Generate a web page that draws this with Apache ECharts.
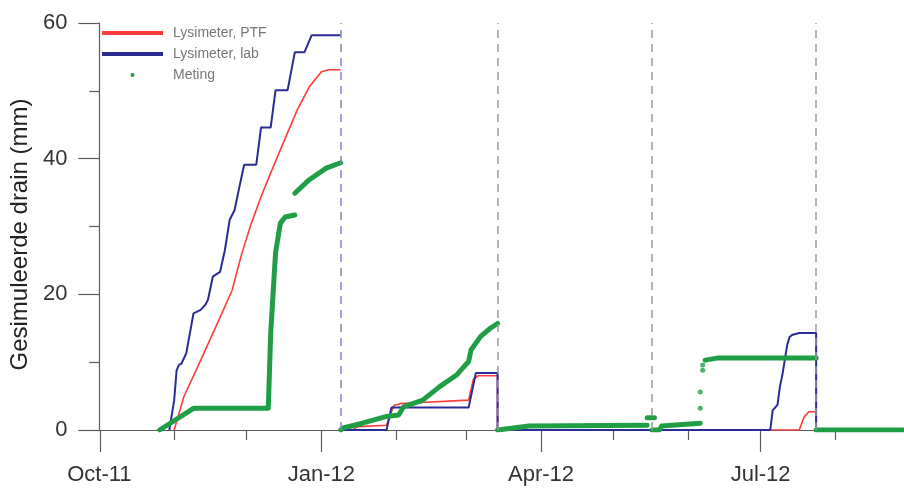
<!DOCTYPE html>
<html>
<head>
<meta charset="utf-8">
<script src="https://cdn.jsdelivr.net/npm/echarts@6/dist/echarts.min.js"></script>
<style>
html,body{margin:0;padding:0;background:#fff;}
#chart{width:904px;height:488px;}
</style>
</head>
<body>
<div id="chart"></div>
<script>
// ---- data ----
const tickDates = ['2011-10-01', '2012-01-01', '2012-04-01', '2012-07-01'];
const tickLabels = ['Oct-11', 'Jan-12', 'Apr-12', 'Jul-12'];
const minorTickDates = ['2011-11-01', '2011-12-01', '2012-02-01', '2012-03-01', '2012-05-01', '2012-06-01', '2012-08-01'];
const axisStart = '2011-10-01';
const axisEnd = '2012-08-29';
const resetDates = ['2012-01-09', '2012-03-14', '2012-05-17', '2012-07-24'];
const yTicks = [0, 20, 40, 60];

const seriesNames = ['Lysimeter, PTF', 'Lysimeter, lab', 'Meting'];

const ptfData = [
  ['2011-11-01', 0], ['2011-11-05', 4.9], ['2011-11-12', 10.3], ['2011-11-19', 15.8],
  ['2011-11-25', 20.6], ['2011-11-29', 26.0], ['2011-12-03', 30.5], ['2011-12-07', 34.4],
  ['2011-12-11', 37.9], ['2011-12-17', 43.0], ['2011-12-22', 47.2], ['2011-12-27', 50.6],
  ['2012-01-01', 52.8], ['2012-01-04', 53.1], ['2012-01-09', 53.1], ['2012-01-09', null],
  ['2012-01-09', 0], ['2012-01-14', 0], ['2012-01-16', 0.5], ['2012-01-28', 0.7],
  ['2012-01-31', 3.6], ['2012-02-03', 3.9], ['2012-03-02', 4.4], ['2012-03-04', 7.5],
  ['2012-03-06', 8.0], ['2012-03-14', 8.0], ['2012-03-14', 0], ['2012-07-17', 0],
  ['2012-07-19', 1.9], ['2012-07-21', 2.7], ['2012-07-24', 2.7], ['2012-07-24', 0],
  ['2012-08-29', 0]
];

const labData = [
  ['2011-10-30', 0], ['2011-11-01', 4.4], ['2011-11-02', 8.8], ['2011-11-03', 9.6],
  ['2011-11-04', 9.8], ['2011-11-06', 11.3], ['2011-11-09', 17.2], ['2011-11-12', 17.7],
  ['2011-11-14', 18.5], ['2011-11-15', 19.2], ['2011-11-17', 22.6], ['2011-11-20', 23.3],
  ['2011-11-22', 26.5], ['2011-11-24', 31.0], ['2011-11-26', 32.4], ['2011-11-28', 35.8],
  ['2011-11-30', 39.1], ['2011-12-05', 39.1], ['2011-12-07', 44.6], ['2011-12-11', 44.6],
  ['2011-12-13', 50.1], ['2011-12-18', 50.1], ['2011-12-21', 55.7], ['2011-12-25', 55.7],
  ['2011-12-28', 58.2], ['2012-01-09', 58.2], ['2012-01-09', null],
  ['2012-01-09', 0], ['2012-01-28', 0], ['2012-01-30', 3.3], ['2012-03-02', 3.3],
  ['2012-03-05', 8.4], ['2012-03-14', 8.4], ['2012-03-14', 0], ['2012-07-05', 0],
  ['2012-07-06', 2.9], ['2012-07-08', 3.7], ['2012-07-09', 6.4], ['2012-07-10', 8.1],
  ['2012-07-12', 12.5], ['2012-07-13', 13.7], ['2012-07-14', 14.0], ['2012-07-17', 14.3],
  ['2012-07-24', 14.3], ['2012-07-24', 0], ['2012-08-29', 0]
];

const metingData = [
  ['2011-10-26', 0], ['2011-11-09', 3.2], ['2011-12-10', 3.2], ['2011-12-11', 14.3],
  ['2011-12-13', 26.1], ['2011-12-15', 30.5], ['2011-12-17', 31.4], ['2011-12-21', 31.7],
  ['2011-12-21', null],
  ['2011-12-21', 34.9], ['2011-12-27', 36.9], ['2012-01-03', 38.6], ['2012-01-09', 39.4],
  ['2012-01-09', null],
  ['2012-01-09', 0], ['2012-01-10', 0.3], ['2012-01-18', 1.0], ['2012-01-28', 2.0],
  ['2012-02-02', 2.2], ['2012-02-04', 3.4], ['2012-02-12', 4.4], ['2012-02-19', 6.4],
  ['2012-02-26', 8.1], ['2012-02-29', 9.3], ['2012-03-02', 10.1], ['2012-03-03', 11.8],
  ['2012-03-07', 13.8], ['2012-03-11', 15.0], ['2012-03-14', 15.7],
  ['2012-03-14', null],
  ['2012-03-14', 0], ['2012-03-27', 0.6], ['2012-05-15', 0.7],
  ['2012-05-15', null],
  ['2012-05-15', 1.8], ['2012-05-18', 1.8],
  ['2012-05-18', null],
  ['2012-05-17', 0], ['2012-05-20', 0], ['2012-05-21', 0.6], ['2012-06-06', 1.0],
  ['2012-06-06', null],
  ['2012-06-08', 10.3], ['2012-06-13', 10.6], ['2012-07-24', 10.6],
  ['2012-07-24', null],
  ['2012-07-24', 0], ['2012-08-29', 0]
];

const metingDots = [
  ['2012-06-06', 3.2], ['2012-06-06', 5.6], ['2012-06-07', 8.8], ['2012-06-07', 9.6]
];

// ---- colours / style ----
const colPtf = '#ff3b3b';
const colLab = '#2b2b96';
const colMeting = '#1f9e46';
const axisCol = '#5a5a5a';
const font = "'Liberation Sans', Arial, sans-serif";

function ts(s) {
  const p = s.split('-').map(Number);
  return new Date(p[0], p[1] - 1, p[2]).getTime();
}
function toXY(arr) {
  return arr.map(function (d) { return [ts(d[0]), d[1] === null ? '-' : d[1]]; });
}
const tickTs = tickDates.map(ts);
const tickPos = tickTs.map(function (t, i) { return i === 0 ? t + 4 * 3600 * 1000 : t; });
const minorTs = minorTickDates.map(ts);

const chart = echarts.init(document.getElementById('chart'), null, {renderer: 'canvas'});

const xBase = {
  type: 'value',
  min: ts(axisStart),
  max: ts(axisEnd),
  scale: true,
  splitLine: {show: false}
};

const option = {
  animation: false,
  backgroundColor: '#fff',
  grid: {left: 95, right: 1, top: 23, bottom: 58, containLabel: false},
  legend: {
    orient: 'vertical',
    left: 97,
    top: 20,
    itemWidth: 61,
    itemHeight: 4,
    itemGap: 5,
    textStyle: {fontFamily: font, fontSize: 14, color: '#777', lineHeight: 16, padding: [0, 0, 0, 5]},
    data: [
      {name: seriesNames[0], icon: 'rect'},
      {name: seriesNames[1], icon: 'rect'},
      {name: seriesNames[2], icon: 'circle'}
    ]
  },
  xAxis: [
    Object.assign({}, xBase, {
      axisLine: {show: true, onZero: false, lineStyle: {color: axisCol, width: 1.2}},
      axisTick: {show: true, length: 22, customValues: tickPos, lineStyle: {color: axisCol, width: 1.2}},
      axisLabel: {
        customValues: tickTs,
        margin: 34,
        fontFamily: font,
        fontSize: 22,
        color: '#333',
        formatter: function (v) {
          const i = tickTs.indexOf(v);
          return i >= 0 ? tickLabels[i] : '';
        }
      }
    }),
    Object.assign({}, xBase, {
      position: 'bottom',
      axisLine: {show: false, onZero: false},
      axisTick: {show: true, length: 10, customValues: minorTs, lineStyle: {color: axisCol, width: 1.2}},
      axisLabel: {show: false}
    })
  ],
  yAxis: {
    type: 'value',
    min: yTicks[0],
    max: yTicks[yTicks.length - 1],
    interval: 20,
    name: 'Gesimuleerde drain (mm)',
    nameLocation: 'middle',
    nameGap: 58,
    nameTextStyle: {fontFamily: font, fontSize: 24, color: '#222', padding: [0, 16, 0, 0]},
    axisLine: {show: true, lineStyle: {color: axisCol, width: 1.2}},
    axisTick: {show: true, length: 21, lineStyle: {color: axisCol, width: 1.2}},
    minorTick: {show: true, splitNumber: 2, length: 10, lineStyle: {color: axisCol, width: 1.2}},
    axisLabel: {margin: 32, fontFamily: font, fontSize: 22, color: '#333'},
    splitLine: {show: false},
    minorSplitLine: {show: false}
  },
  series: [
    {
      name: seriesNames[0],
      type: 'line',
      data: toXY(ptfData),
      showSymbol: false,
      connectNulls: false,
      color: colPtf,
      lineStyle: {color: colPtf, width: 1.6},
      z: 2,
      markLine: {
        silent: true,
        symbol: ['none', 'none'],
        label: {show: false},
        lineStyle: {color: '#9a9a9a', type: [8, 6], width: 1.5},
        data: resetDates.map(function (d, i) {
          const item = {xAxis: ts(d)};
          if (i === 0) item.lineStyle = {color: '#8585d0', type: [8, 6], width: 1.5};
          return item;
        })
      }
    },
    {
      name: seriesNames[1],
      type: 'line',
      data: toXY(labData),
      showSymbol: false,
      connectNulls: false,
      color: colLab,
      lineStyle: {color: colLab, width: 2},
      z: 3
    },
    {
      name: seriesNames[2],
      type: 'line',
      data: toXY(metingData),
      showSymbol: false,
      connectNulls: false,
      color: colMeting,
      lineStyle: {color: colMeting, width: 5, cap: 'round', join: 'round'},
      z: 4
    },
    {
      name: seriesNames[2],
      type: 'scatter',
      data: toXY(metingDots),
      symbol: 'circle',
      symbolSize: 5,
      color: colMeting,
      itemStyle: {color: colMeting},
      z: 4
    }
  ]
};
chart.setOption(option);
</script>
</body>
</html>
